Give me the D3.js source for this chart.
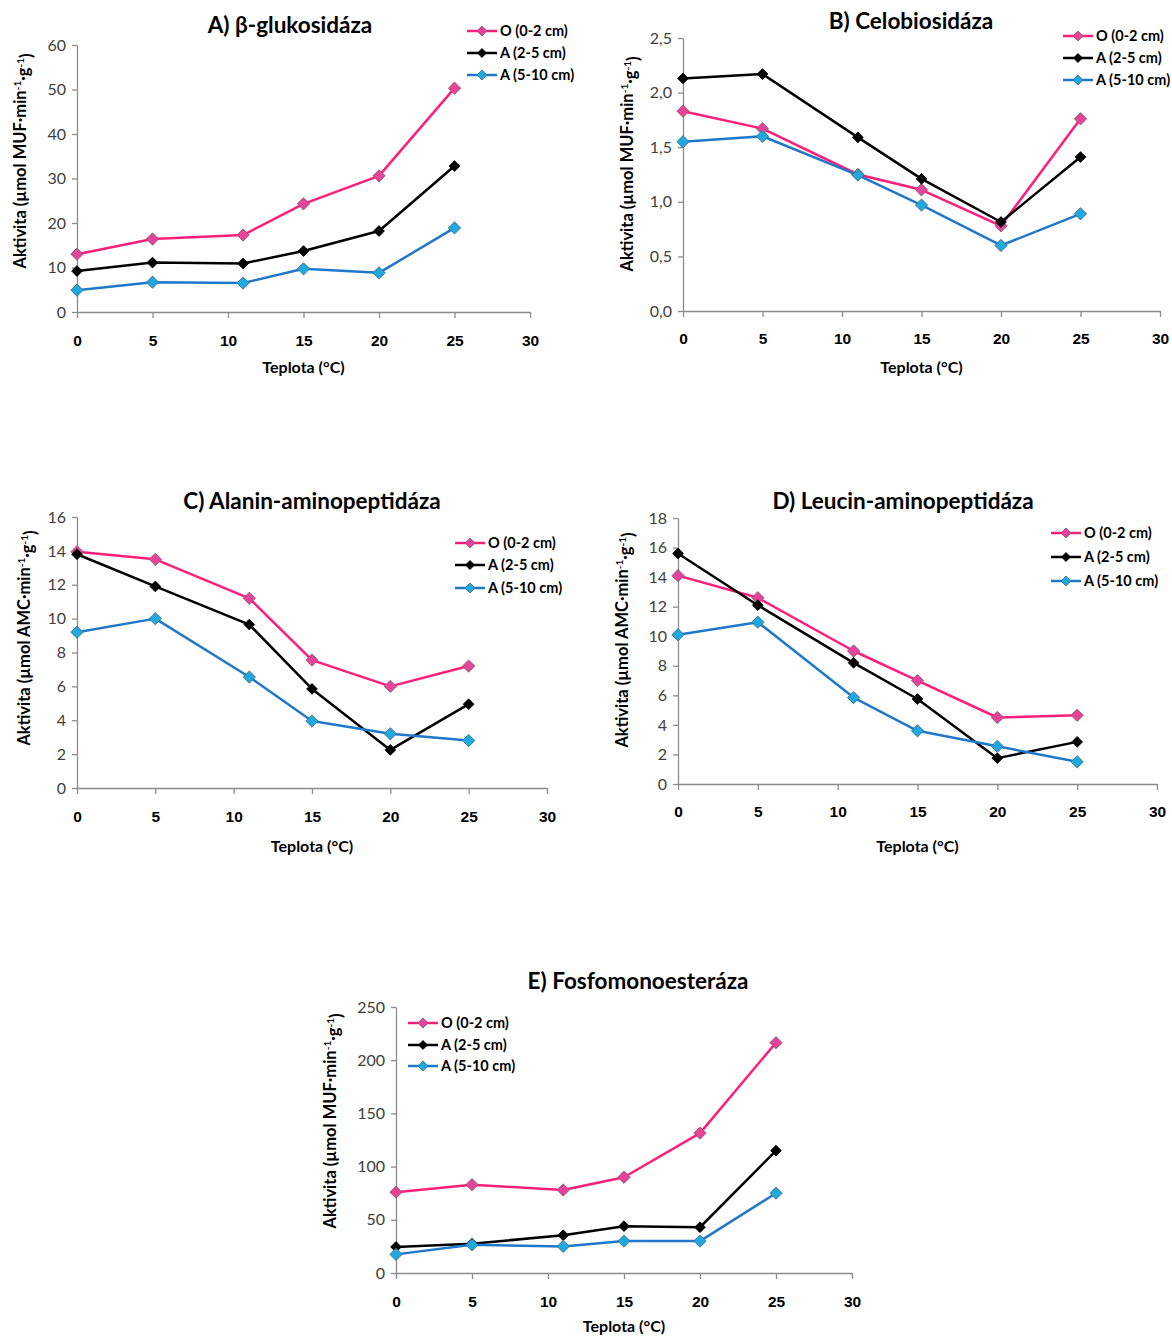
<!DOCTYPE html>
<html><head><meta charset="utf-8">
<script src="https://cdn.jsdelivr.net/npm/d3@7"></script>
<style>
body{margin:0;background:#fff;}
svg{display:block;font-family:Lato,"Open Sans",sans-serif;}
</style></head><body>
<svg id="c" width="1172" height="1337"></svg>
<script>
// ---- data ----
const temps = [0, 5, 11, 15, 20, 25];
const seriesNames = ["O (0-2 cm)", "A (2-5 cm)", "A (5-10 cm)"];
const xTicks = [0, 5, 10, 15, 20, 25, 30];

const glukO   = [13.0, 16.4, 17.3, 24.3, 30.6, 50.3];
const glukA1  = [9.2, 11.1, 10.9, 13.7, 18.2, 32.8];
const glukA2  = [4.9, 6.7, 6.5, 9.7, 8.8, 18.9];

const celoO   = [1.83, 1.67, 1.25, 1.11, 0.78, 1.76];
const celoA1  = [2.13, 2.17, 1.59, 1.21, 0.815, 1.41];
const celoA2  = [1.55, 1.60, 1.245, 0.97, 0.60, 0.89];

const alaO    = [13.95, 13.5, 11.2, 7.55, 6.0, 7.2];
const alaA1   = [13.8, 11.9, 9.65, 5.85, 2.25, 4.95];
const alaA2   = [9.2, 10.0, 6.55, 3.95, 3.2, 2.8];

const leuO    = [14.1, 12.6, 9.0, 7.0, 4.5, 4.65];
const leuA1   = [15.6, 12.1, 8.2, 5.75, 1.75, 2.85];
const leuA2   = [10.1, 10.95, 5.85, 3.6, 2.55, 1.5];

const fosO    = [76, 83, 78, 90, 131.5, 216.5];
const fosA1   = [24.5, 27.5, 35.5, 44, 43, 115];
const fosA2   = [17.5, 26.5, 25, 30, 30, 75];

const yTicksA = [0, 10, 20, 30, 40, 50, 60];
const yTicksB = [0, 0.5, 1.0, 1.5, 2.0, 2.5];
const yTicksC = [0, 2, 4, 6, 8, 10, 12, 14, 16];
const yTicksD = [0, 2, 4, 6, 8, 10, 12, 14, 16, 18];
const yTicksE = [0, 50, 100, 150, 200, 250];

// ---- styles ----
const lineColors = ["#ff1f78", "#000000", "#1f78c9"];
const markerFill = ["#e8439b", "#000000", "#1ea9e1"];
const markerStroke = ["#7a6070", "#000000", "#4a6a80"];

const panels = [
  {title:"A) β-glukosidáza", series:[glukO,glukA1,glukA2], yTicks:yTicksA, fmt:d=>d,
   x0:77, x1:530, y0:45, y1:312, titleX:290, titleY:33, unit:"MUF", yLabX:20, yLabY:161,
   legX:467, legY:[31,53,75], xtY:341, xtitleY:373},
  {title:"B) Celobiosidáza", series:[celoO,celoA1,celoA2], yTicks:yTicksB, fmt:d=>d.toFixed(1).replace(".",","),
   x0:683, x1:1160, y0:38, y1:311, titleX:911, titleY:29, unit:"MUF", yLabX:627, yLabY:164,
   legX:1063, legY:[36,58,80], xtY:339, xtitleY:373},
  {title:"C) Alanin-aminopeptidáza", series:[alaO,alaA1,alaA2], yTicks:yTicksC, fmt:d=>d,
   x0:77, x1:547, y0:517, y1:788, titleX:312, titleY:509, unit:"AMC", yLabX:24, yLabY:638,
   legX:455, legY:[543,565,588], xtY:817, xtitleY:852},
  {title:"D) Leucin-aminopeptidáza", series:[leuO,leuA1,leuA2], yTicks:yTicksD, fmt:d=>d,
   x0:678, x1:1157, y0:518, y1:784, titleX:903, titleY:509, unit:"AMC", yLabX:622, yLabY:640,
   legX:1051, legY:[533,557,581], xtY:812, xtitleY:852},
  {title:"E) Fosfomonoesteráza", series:[fosO,fosA1,fosA2], yTicks:yTicksE, fmt:d=>d,
   x0:396, x1:852, y0:1007, y1:1273, titleX:638, titleY:989, unit:"MUF", yLabX:330, yLabY:1121,
   legX:408, legY:[1023,1045,1066], xtY:1302, xtitleY:1332}
];

const svg = d3.select("#c");
const diamond = d3.symbol().type(d3.symbolSquare);

panels.forEach(p => {
  const g = svg.append("g");
  const x = d3.scaleLinear().domain([0,30]).range([p.x0,p.x1]);
  const yMax = p.yTicks[p.yTicks.length-1];
  const y = d3.scaleLinear().domain([0,yMax]).range([p.y1,p.y0]);

  // y axis
  const ya = g.append("g").attr("transform",`translate(${p.x0},0)`)
    .call(d3.axisLeft(y).tickValues(p.yTicks).tickFormat(p.fmt).tickSizeInner(5).tickSizeOuter(0).tickPadding(6));
  ya.select(".domain").attr("stroke","#8c8c8c").attr("stroke-width",1.3);
  ya.selectAll(".tick line").attr("stroke","#8c8c8c").attr("stroke-width",1.3);
  ya.selectAll(".tick text").attr("font-size",16).attr("fill","#404040").attr("font-family","Lato, sans-serif");

  // x axis
  const xa = g.append("g").attr("transform",`translate(0,${p.y1})`)
    .call(d3.axisBottom(x).tickValues(xTicks).tickSizeInner(6).tickSizeOuter(0).tickPadding(0));
  xa.select(".domain").attr("stroke","#8c8c8c").attr("stroke-width",1.3);
  xa.selectAll(".tick line").attr("stroke","#8c8c8c").attr("stroke-width",1.3);
  xa.selectAll(".tick text").attr("font-size",15.5).attr("font-weight","bold").attr("fill","#000")
    .attr("y", p.xtY - p.y1).attr("dy","0.35em");

  // title
  g.append("text").attr("x",p.titleX).attr("y",p.titleY).attr("text-anchor","middle")
    .attr("font-size",22.5).attr("font-weight","bold").text(p.title);

  // x title
  g.append("text").attr("x",(p.x0+p.x1)/2).attr("y",p.xtitleY).attr("text-anchor","middle")
    .attr("font-size",16).attr("font-weight","bold").text("Teplota (°C)");

  // y title
  const yt = g.append("text").attr("transform",`translate(${p.yLabX},${p.yLabY}) rotate(-90)`)
    .attr("text-anchor","middle").attr("dy","0.35em").attr("font-size",16.5).attr("font-weight","bold");
  yt.append("tspan").text(`Aktivita (µmol ${p.unit}·min`);
  yt.append("tspan").attr("font-size",10).attr("dy","-0.5em").text("-1");
  yt.append("tspan").attr("dy","0.5em").text("·g");
  yt.append("tspan").attr("font-size",10).attr("dy","-0.5em").text("-1");
  yt.append("tspan").attr("dy","0.5em").text(")");

  const line = d3.line().x((d,i)=>x(temps[i])).y(d=>y(d));

  p.series.forEach((s,k) => {
    g.append("path").datum(s).attr("d",line).attr("fill","none")
      .attr("stroke",lineColors[k]).attr("stroke-width",2.5).attr("stroke-linejoin","round");
  });
  p.series.forEach((s,k) => {
    g.selectAll(null).data(s).enter().append("path")
      .attr("d", diamond.size(k===1?58:76)())
      .attr("transform",(d,i)=>`translate(${x(temps[i])},${y(d)}) rotate(45)`)
      .attr("fill",markerFill[k]).attr("stroke",markerStroke[k]).attr("stroke-width",0.8);
  });

  // legend
  seriesNames.forEach((name,k) => {
    const ly = p.legY[k];
    g.append("line").attr("x1",p.legX).attr("x2",p.legX+30).attr("y1",ly).attr("y2",ly)
      .attr("stroke",lineColors[k]).attr("stroke-width",2.5);
    g.append("path").attr("d", diamond.size(k===1?40:50)())
      .attr("transform",`translate(${p.legX+15},${ly}) rotate(45)`)
      .attr("fill",markerFill[k]).attr("stroke",markerStroke[k]).attr("stroke-width",0.8);
    g.append("text").attr("x",p.legX+33).attr("y",ly).attr("dy","0.35em")
      .attr("font-size",14.5).attr("font-weight","bold").text(name);
  });
});
</script>
</body></html>
